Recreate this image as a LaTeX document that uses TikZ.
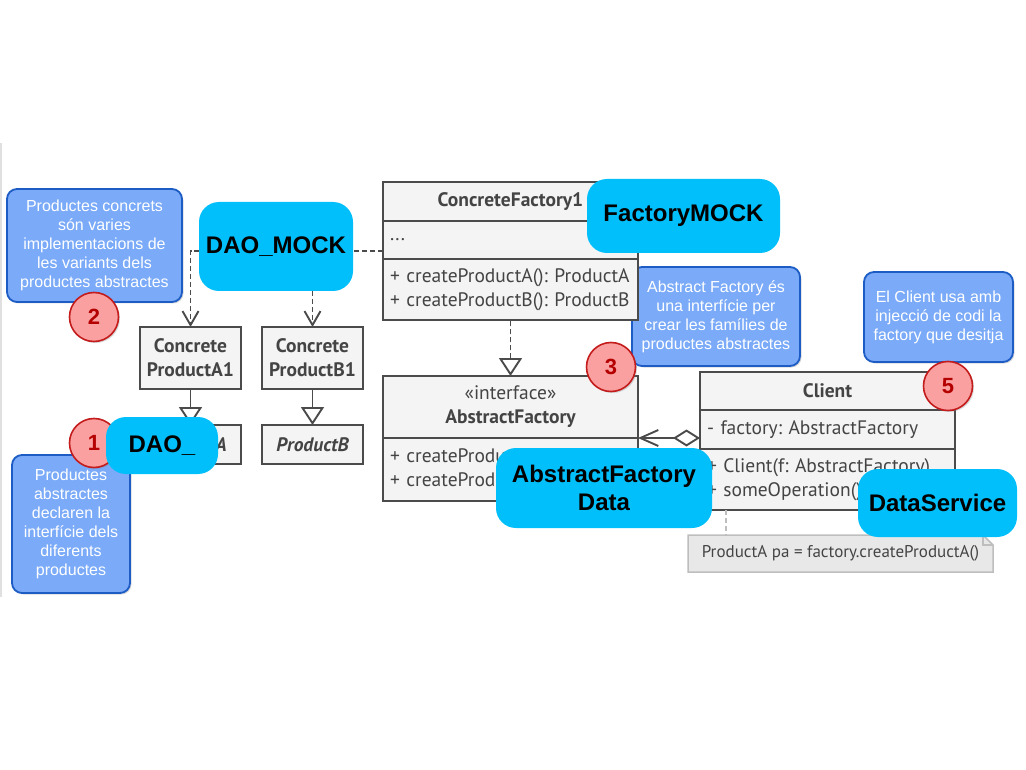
\documentclass[tikz,border=0pt]{standalone}
\usepackage{fontspec}
\setmainfont{Liberation Sans}
\newfontfamily\umlfont{PT Sans}
\usetikzlibrary{positioning,arrows.meta,shadows,backgrounds}

\definecolor{mockcyan}{RGB}{0,191,250}
\definecolor{notefill}{RGB}{122,170,248}
\definecolor{noteline}{RGB}{28,92,196}
\definecolor{badgefill}{RGB}{250,160,160}
\definecolor{badgeline}{RGB}{196,28,28}
\definecolor{badgetext}{RGB}{180,0,0}
\definecolor{umlfill}{RGB}{244,244,244}
\definecolor{umlline}{RGB}{75,75,75}
\definecolor{umltext}{RGB}{68,68,68}
\definecolor{codefill}{RGB}{232,232,232}
\definecolor{codeline}{RGB}{190,190,190}

\begin{document}
\frenchspacing
\begin{tikzpicture}[x=1pt, y=-1pt, node distance = 0pt,
uml/.style={ rectangle, draw=umlline, fill=umlfill, line width=1.9pt, text=umltext, inner sep=0pt, outer sep=0pt },
umlhead/.style={ uml, minimum width=255pt, align=center, font=\umlfont\bfseries\fontsize{19.5}{24}\selectfont },
umlbody/.style={ uml, text width=241pt, inner xsep=7pt, align=left, font=\umlfont\fontsize{19.5}{24}\selectfont },
prodbox/.style={ umlhead, minimum width=101pt, minimum height=62pt },
absprod/.style={ umlhead, minimum width=101pt, minimum height=39pt, font=\umlfont\bfseries\itshape\fontsize{19.5}{24}\selectfont },
codenote/.style={ rectangle, minimum width=305pt, minimum height=37pt, inner sep=0pt, outer sep=0pt, text=umltext, font=\umlfont\fontsize{17}{20}\selectfont },
note/.style={ rectangle, rounded corners=10pt, draw=noteline, fill=notefill, line width=1.8pt, text=white, align=center, font=\fontsize{16}{19}\selectfont, drop shadow={shadow xshift=1.5pt, shadow yshift=-1.5pt, opacity=.3} },
badge/.style={ circle, draw=badgeline, fill=badgefill, line width=1.6pt, minimum size=49pt, inner sep=0pt, text=badgetext, font=\bfseries\fontsize{22}{22}\selectfont, drop shadow={shadow xshift=1.5pt, shadow yshift=-1.5pt, opacity=.3} },
mock/.style={ rectangle, rounded corners=20pt, fill=mockcyan, align=center, font=\bfseries\fontsize{24}{28}\selectfont },
depend/.style={ draw=umlline, line width=1.9pt, dash pattern=on 5pt off 3pt, -{Straight Barb[length=14pt, width=16pt]} },
inherit/.style={ draw=umlline, line width=1.9pt, {Triangle[open, length=18pt, width=23pt]}- },
realize/.style={ inherit, dash pattern=on 5pt off 3pt },
aggr/.style={ draw=umlline, line width=1.9pt, {Straight Barb[length=18pt, width=16pt]}-{Diamond[open, length=27pt, width=17pt]} },
codelink/.style={ draw=codeline, line width=1.8pt, dash pattern=on 5pt off 3pt }]

\useasboundingbox (0,0) rectangle (1026,770);
\draw [black!12, line width=2pt] (1,143) -- (1,597);

%notes
\node (n2) [note, minimum width=175pt, minimum height=113pt] at (94.5,245.5) {Productes concrets\\són varies\\implementacions de\\les variants dels\\productes abstractes};
\node (n1) [note, minimum width=118pt, minimum height=138pt] at (71,524) {Productes\\abstractes\\declaren la\\interfície dels\\diferents\\productes};
\node (n3) [note, minimum width=168pt, minimum height=99pt] at (716,316.5) {Abstract Factory és\\una interfície per\\crear les famílies de\\productes abstractes};
\node (n5) [note, minimum width=149pt, minimum height=90pt] at (938.5,317) {El Client usa amb\\injecció de codi la\\factory que desitja};

%products
\node (cpa1) [prodbox] at (190.5,358) {Concrete\\ProductA1};
\node (cpb1) [prodbox, right = 21pt of cpa1] {Concrete\\ProductB1};
\node (pa) [absprod, below = 36pt of cpa1] {ProductA}
	edge [inherit] (cpa1);
\node (pb) [absprod, below = 36pt of cpb1] {ProductB}
	edge [inherit] (cpb1);

%factories
\node (cfhead) [umlhead, minimum height=39pt] at (510.5,201.5) {ConcreteFactory1};
\node (cfdots) [umlbody, minimum height=38pt, below = of cfhead] {...};
\node (cfmeth) [umlbody, minimum height=61pt, below = of cfdots] {+ createProductA(): ProductA\\+ createProductB(): ProductB};
\node (afhead) [umlhead, minimum height=62pt, below = 56pt of cfmeth] {{\mdseries «interface»}\\AbstractFactory}
	edge [realize] (cfmeth);
\node (afmeth) [umlbody, minimum height=63pt, below = of afhead] {+ createProductA(): ProductA\\+ createProductB(): ProductB};

\coordinate (fork) at ([yshift=-11pt]cfdots.west);
\draw [depend] (fork) -| (cpa1.north);
\draw [depend] (fork -| cpb1.north) -- (cpb1.north);

%client
\node (clhead) [umlhead, minimum height=38pt] at (827.5,391) {Client};
\node (clfield) [umlbody, minimum height=39pt, below = of clhead] {- factory: AbstractFactory};
\node (clmeth) [umlbody, minimum height=61pt, below = of clfield] {+ Client(f: AbstractFactory)\\+ someOperation()};
\draw [aggr] (afhead.south east) -- (afhead.south east -| clfield.west);

%code note
\node (code) [codenote] at (840.5,553.5) {ProductA pa = factory.createProductA()};
\begin{scope}[on background layer]
\draw [codeline, fill=codefill, line width=1.5pt] (code.south west) -- (code.north west) -- ([xshift=-10pt]code.north east) -- ([yshift=-10pt]code.north east) -- (code.south east) -- cycle;
\draw [codeline, line width=1.2pt] ([xshift=-10pt]code.north east) |- ([yshift=-10pt]code.north east);
\end{scope}
\draw [codelink] ([xshift=26pt]clmeth.south west) -- ([xshift=38pt]code.north west);

%badges
\node (b2) [badge] at (94,317) {2};
\node (b1) [badge] at (94,443) {1};
\node (b3) [badge] at (611,367) {3};
\node (b5) [badge] at (948,386) {5};

%mock labels
\node (daomock) [mock, minimum width=154pt, minimum height=89pt] at (276,246.5) {DAO\_MOCK};
\node (dao) [mock, minimum width=112pt, minimum height=57pt] at (162,445.5) {DAO\_};
\node (factmock) [mock, minimum width=193pt, minimum height=74pt] at (683.5,216) {FactoryMOCK};
\node (afdata) [mock, minimum width=216pt, minimum height=80pt] at (604,488) {AbstractFactory\\Data};
\node (dataserv) [mock, minimum width=159pt, minimum height=68pt] at (937.5,503) {DataService};

\end{tikzpicture}
\end{document}
